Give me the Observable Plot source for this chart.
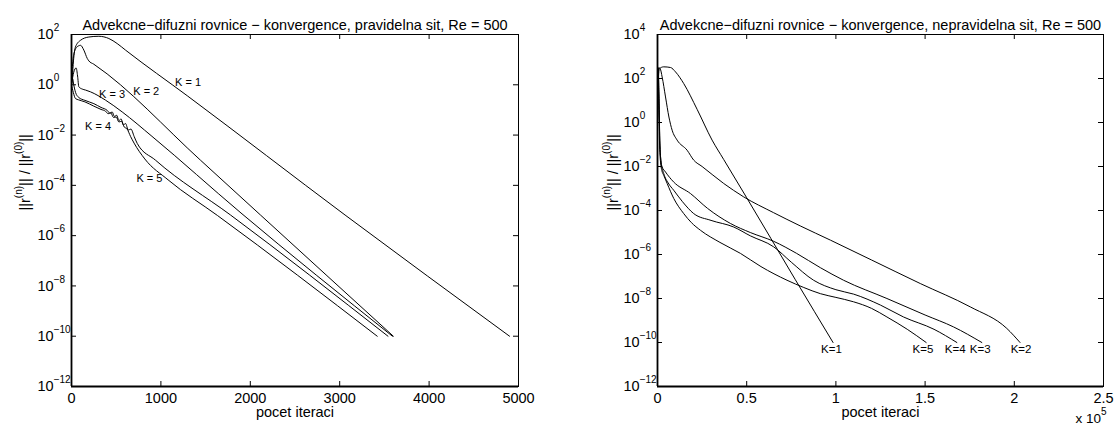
<!DOCTYPE html>
<html><head><meta charset="utf-8">
<script src="https://cdn.jsdelivr.net/npm/d3@7"></script>
<script src="https://cdn.jsdelivr.net/npm/@observablehq/plot@0.6"></script>
<style>
html,body{margin:0;padding:0;background:#fff;}
#wrap{display:flex;width:1117px;height:430px;overflow:hidden;}
</style></head><body><div id="wrap"></div>
<script>
// ---------- LEFT PANEL DATA (regular grid): iterations & log10 residual ----------
const leftTitle = "Advekcne\u2212difuzni rovnice \u2212 konvergence, pravidelna sit, Re = 500";
const leftXTicks = [0, 1000, 2000, 3000, 4000, 5000];
const leftYTicks = [1e2, 1e0, 1e-2, 1e-4, 1e-6, 1e-8, 1e-10, 1e-12];

const L1_it  = [0, 10, 22, 44, 101, 194, 306, 418, 511, 604, 1300, 3060, 4900];
const L1_log = [0, 0.35, 0.95, 1.5, 1.77, 1.9, 1.93, 1.84, 1.64, 1.38, -0.45, -5.18, -10];
const L2_it  = [0, 8, 25, 60, 101, 138, 176, 194, 249, 1443, 2114, 3600];
const L2_log = [0, 0.6, 1.2, 1.5, 1.57, 1.38, 1.05, 0.95, 0.82, -3.0, -5.18, -10];
const L3_it  = [0, 25, 52, 68, 82, 120, 157, 212, 380, 567, 900, 1896, 3590];
const L3_log = [0, 0.5, 0.67, 0.35, -0.08, -0.17, -0.21, -0.28, -0.61, -1.08, -2.05, -5.1, -10];
const L4_it  = [0, 12, 25, 45, 80, 150, 250, 330, 400, 430, 455, 480, 505, 530, 555, 580, 605, 635, 665, 700, 735, 940, 1779, 3540];
const L4_log = [0, 0.25, 0.0, -0.3, -0.5, -0.62, -0.75, -0.9, -1.02, -1.13, -1.08, -1.26, -1.21, -1.42, -1.36, -1.6, -1.54, -1.8, -1.76, -2.05, -2.33, -3.0, -5.18, -10];
const L5_it  = [0, 20, 45, 80, 150, 250, 330, 380, 410, 440, 470, 500, 530, 560, 590, 620, 660, 700, 820, 1080, 1633, 3420];
const L5_log = [0, -0.3, -0.55, -0.6, -0.68, -0.85, -0.98, -1.05, -1.15, -1.12, -1.3, -1.28, -1.48, -1.45, -1.68, -1.75, -2.05, -2.32, -2.95, -3.78, -5.2, -10];
const leftLabels = ["K = 1", "K = 2", "K = 3", "K = 4", "K = 5"];
const leftLabelIt  = [1304, 836, 454, 297, 872];
const leftLabelLog = [0.09, -0.25, -0.37, -1.67, -3.73];

// ---------- RIGHT PANEL DATA (irregular grid) ----------
const rightTitle = "Advekcne\u2212difuzni rovnice \u2212 konvergence, nepravidelna sit, Re = 500";
const rightXTicks = [0, 50000, 100000, 150000, 200000, 250000];
const rightXTickLabels = ["0", "0.5", "1", "1.5", "2", "2.5"];
const rightYTicks = [1e4, 1e2, 1e0, 1e-2, 1e-4, 1e-6, 1e-8, 1e-10, 1e-12];

const R1_it  = [0, 300, 1100, 3500, 7300, 10100, 14700, 22200, 30600, 37100, 50000, 77300, 98400];
const R1_log = [0, 1.6, 2.45, 2.53, 2.5, 2.3, 1.77, 0.6, -0.8, -1.68, -3.42, -7.15, -10];
const R2_it  = [0, 300, 700, 1500, 2600, 4500, 6400, 8200, 11000, 16600, 20300, 25000, 37100, 48300, 65100, 80000, 97000, 120000, 147300, 175300, 195800, 203200];
const R2_log = [0, 1.8, 2.5, 2.45, 2.07, 1.16, 0.25, -0.35, -0.8, -1.26, -1.71, -2.0, -2.77, -3.38, -4.1, -4.7, -5.35, -6.25, -7.32, -8.38, -9.36, -10];
const R3_it  = [0, 150, 400, 800, 1200, 1700, 2500, 4500, 9000, 18500, 28000, 40900, 52000, 65100, 78000, 91300, 104300, 128600, 150000, 165900, 181800];
const R3_log = [0, 2.2, 2.45, 1.3, -0.6, -1.56, -2.0, -2.25, -2.7, -3.23, -3.9, -4.59, -5.0, -5.4, -5.95, -6.6, -7.17, -8.0, -8.75, -9.29, -10];
const R4_it  = [0, 150, 400, 800, 1300, 2000, 3500, 6000, 9100, 14000, 20300, 30000, 42700, 52000, 65100, 75000, 87500, 100000, 109900, 125000, 137900, 155000, 167800];
const R4_log = [0, 2.2, 2.45, 1.2, -0.8, -1.8, -2.32, -2.75, -3.08, -3.6, -4.14, -4.45, -4.75, -5.15, -5.65, -6.35, -7.17, -7.6, -7.8, -8.3, -8.84, -9.4, -10];
const R5_it  = [0, 150, 350, 700, 1100, 1700, 2500, 3500, 5400, 9100, 14700, 19000, 24100, 35000, 46500, 58000, 72600, 82000, 91300, 100000, 109900, 120000, 128600, 140000, 150600];
const R5_log = [0, 2.2, 2.45, 1.0, -0.8, -1.8, -2.2, -2.4, -2.77, -3.45, -4.14, -4.55, -4.9, -5.45, -5.95, -6.55, -7.17, -7.5, -7.78, -7.95, -8.15, -8.45, -8.84, -9.4, -10];
const rightLabels = ["K=1", "K=5", "K=4", "K=3", "K=2"];
const rightLabelIt = [97500, 148800, 166900, 180900, 203800];
const rightLabelLog = [-10, -10, -10, -10, -10];

const yLabel = "||r^{(n)}|| / ||r^{(0)}||";
const xLabel = "pocet iteraci";

// ---------- helpers ----------
const FONT = '"Liberation Sans", Arial, Helvetica, sans-serif';
const FS = 14.5;
function series(k, its, logs) { return its.map((x, i) => ({k, it: x, r: Math.pow(10, logs[i])})); }
function labelRows(names, its, logs) { return names.map((n, i) => ({n, it: its[i], r: Math.pow(10, logs[i])})); }
function powLabel(d) { const e = Math.round(Math.log10(d)); return "10^{" + (e < 0 ? "\u2212" + (-e) : e) + "}"; }

function supify(root, supSize, raise) {
  root.querySelectorAll("text").forEach(t => {
    const s = t.textContent;
    if (!s.includes("^{")) return;
    const parts = s.split(/\^\{([^}]*)\}/);
    while (t.firstChild) t.removeChild(t.firstChild);
    let raised = false;
    parts.forEach((p, i) => {
      if (p === "") return;
      const ts = document.createElementNS("http://www.w3.org/2000/svg", "tspan");
      ts.textContent = p;
      if (i % 2 === 1) { ts.setAttribute("font-size", supSize); ts.setAttribute("dy", -raise); raised = true; }
      else if (raised) { ts.setAttribute("dy", raise); raised = false; }
      t.appendChild(ts);
    });
  });
}

function panel(o) {
  const height = 430, marginTop = 34, marginBottom = 44;
  const pw = o.width - o.marginLeft - o.marginRight, ph = height - marginTop - marginBottom;
  const svg = Plot.plot({
    width: o.width, height, marginLeft: o.marginLeft, marginRight: o.marginRight, marginTop, marginBottom,
    style: {fontFamily: FONT, fontSize: FS + "px", color: "black", background: "white", overflow: "visible"},
    x: {domain: o.xDomain},
    y: {type: "log", domain: o.yDomain},
    marks: [
      Plot.line(o.lines, {x: "it", y: "r", z: "k", stroke: "black", strokeWidth: 1, curve: "monotone-x"}),
      Plot.tickX(o.xTicks, {x: d => d, insetTop: ph - 5, stroke: "black"}),
      Plot.tickX(o.xTicks, {x: d => d, insetBottom: ph - 5, stroke: "black"}),
      Plot.tickY(o.yTicks, {y: d => d, insetRight: pw - 5, stroke: "black"}),
      Plot.tickY(o.yTicks, {y: d => d, insetLeft: pw - 5, stroke: "black"}),
      Plot.frame({stroke: "black", strokeWidth: 1}),
      Plot.ruleX([o.xDomain[0]], {stroke: "black", strokeWidth: 1.8}),
      Plot.ruleY([o.yDomain[0]], {stroke: "black", strokeWidth: 1.8}),
      Plot.axisX(o.xTicks, {tickSize: 0, tickPadding: 6.5, tickFormat: o.xFmt, label: null, fill: "black"}),
      Plot.axisY(o.yTicks, {tickSize: 0, tickPadding: 34, textAnchor: "start", tickFormat: powLabel, label: null, fill: "black"}),
      Plot.text([o.title], {text: d => d, frameAnchor: "top", dy: -14.5, fontSize: FS, fill: "black"}),
      Plot.text([xLabel], {text: d => d, frameAnchor: "bottom", dy: 30, fontSize: FS, fill: "black"}),
      Plot.text([yLabel], {text: d => d, frameAnchor: "left", dx: o.yLabelDx, rotate: -90, fontSize: FS, fill: "black"}),
      Plot.text(o.labels, {x: "it", y: "r", text: "n", fontSize: o.labelSize, dy: o.labelDy, textAnchor: "middle", fill: "black"}),
      ...(o.extra || [])
    ]
  });
  supify(svg, 10, 8);
  return svg;
}

const leftLines = [].concat(
  series("K1", L1_it, L1_log), series("K2", L2_it, L2_log), series("K3", L3_it, L3_log),
  series("K4", L4_it, L4_log), series("K5", L5_it, L5_log));
const rightLines = [].concat(
  series("K1", R1_it, R1_log), series("K2", R2_it, R2_log), series("K3", R3_it, R3_log),
  series("K4", R4_it, R4_log), series("K5", R5_it, R5_log));

const left = panel({
  width: 557, marginLeft: 71, marginRight: 39,
  xDomain: [0, 5000], yDomain: [1e-12, 1e2],
  xTicks: leftXTicks, yTicks: leftYTicks, xFmt: d => String(d),
  title: leftTitle, lines: leftLines, yLabelDx: -46,
  labels: labelRows(leftLabels, leftLabelIt, leftLabelLog), labelSize: 11, labelDy: 0
});
const right = panel({
  width: 560, marginLeft: 100, marginRight: 14,
  xDomain: [0, 250000], yDomain: [1e-12, 1e4],
  xTicks: rightXTicks, yTicks: rightYTicks, xFmt: d => rightXTickLabels[rightXTicks.indexOf(d)],
  title: rightTitle, lines: rightLines, yLabelDx: -44,
  labels: labelRows(rightLabels, rightLabelIt, rightLabelLog), labelSize: 11.5, labelDy: 6.5,
  extra: [Plot.text(["x 10^{5}"], {text: d => d, frameAnchor: "bottom-right", textAnchor: "end", dx: 3, dy: 36, fontSize: FS - 1, fill: "black"})]
});
document.getElementById("wrap").append(left, right);
</script>
</body></html>
